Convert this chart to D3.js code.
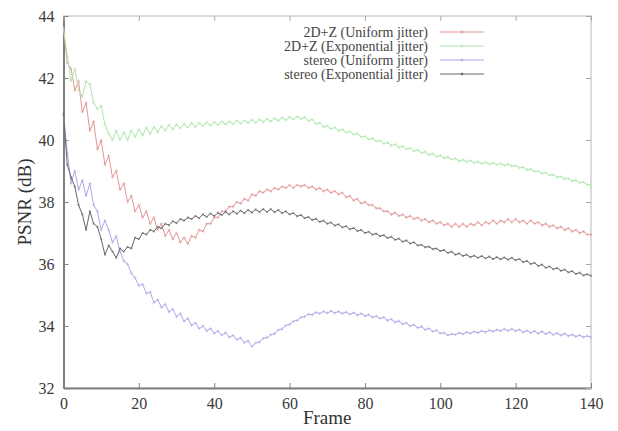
<!DOCTYPE html>
<html>
<head>
<meta charset="utf-8">
<script src="https://cdn.jsdelivr.net/npm/d3@7"></script>
<style>
  body { margin: 0; background: #fff; }
</style>
</head>
<body>
<script>
// data, one value per frame (0..140)
var uniform2dz = [43.6,42.5,42.3,41.6,41.9,40.9,41.2,40.3,40.6,39.7,40.0,39.2,39.5,38.8,39.0,38.4,38.6,38.0,38.2,37.7,
  37.9,37.5,37.7,37.3,37.5,37.1,37.3,36.9,37.1,36.8,37.0,36.7,36.85,36.65,36.9,36.85,37.1,37.05,37.3,37.3,
  37.5,37.5,37.7,37.7,37.85,37.85,38.0,37.95,38.1,38.05,38.25,38.2,38.35,38.3,38.4,38.35,38.45,38.4,38.5,38.45,
  38.55,38.45,38.55,38.5,38.55,38.45,38.5,38.4,38.45,38.35,38.4,38.3,38.35,38.25,38.3,38.15,38.2,38.05,38.1,37.95,
  38.0,37.9,37.9,37.8,37.8,37.7,37.7,37.6,37.65,37.55,37.6,37.5,37.55,37.45,37.5,37.4,37.45,37.35,37.4,37.3,
  37.35,37.25,37.3,37.2,37.3,37.2,37.3,37.2,37.3,37.25,37.35,37.25,37.35,37.3,37.4,37.3,37.4,37.35,37.45,37.35,
  37.45,37.35,37.4,37.3,37.4,37.3,37.35,37.25,37.3,37.2,37.25,37.15,37.2,37.1,37.15,37.05,37.1,37.0,37.05,36.95,36.95];

var expo2dz = [43.6,42.7,41.9,42.3,41.6,41.4,41.9,41.8,41.2,41.0,41.1,40.5,40.2,40.0,40.3,40.0,40.25,40.0,40.3,40.1,
  40.35,40.15,40.4,40.2,40.42,40.25,40.45,40.3,40.48,40.35,40.5,40.38,40.52,40.4,40.55,40.42,40.55,40.45,40.57,40.47,
  40.58,40.48,40.6,40.5,40.6,40.52,40.62,40.53,40.63,40.55,40.65,40.56,40.66,40.58,40.68,40.6,40.7,40.62,40.72,40.64,
  40.74,40.66,40.76,40.68,40.74,40.62,40.66,40.52,40.56,40.42,40.46,40.36,40.4,40.3,40.34,40.24,40.28,40.18,40.2,40.1,
  40.12,40.02,40.05,39.95,39.98,39.88,39.92,39.82,39.86,39.76,39.8,39.7,39.74,39.64,39.68,39.58,39.62,39.52,39.56,39.46,
  39.5,39.42,39.45,39.37,39.4,39.32,39.36,39.3,39.34,39.26,39.3,39.24,39.28,39.22,39.26,39.2,39.24,39.18,39.22,39.15,
  39.18,39.1,39.12,39.04,39.06,38.98,39.0,38.92,38.94,38.86,38.88,38.8,38.82,38.74,38.76,38.68,38.7,38.62,38.64,38.56,38.55];

var uniformStereo = [40.8,39.6,38.6,39.0,38.4,38.7,38.2,38.6,37.9,37.7,37.1,37.4,37.1,36.7,36.9,36.4,36.1,36.0,35.7,35.55,
  35.3,35.35,35.05,35.1,34.75,34.85,34.6,34.7,34.45,34.55,34.3,34.4,34.15,34.25,34.02,34.1,33.92,34.0,33.84,33.92,
  33.76,33.84,33.7,33.78,33.64,33.7,33.56,33.62,33.46,33.52,33.34,33.45,33.48,33.6,33.62,33.72,33.75,33.87,33.9,34.02,
  34.05,34.15,34.18,34.28,34.3,34.38,34.36,34.44,34.4,34.47,34.42,34.48,34.42,34.47,34.4,34.45,34.38,34.43,34.35,34.4,
  34.32,34.36,34.28,34.32,34.24,34.28,34.18,34.22,34.12,34.16,34.06,34.1,34.0,34.04,33.94,33.98,33.88,33.92,33.82,33.86,
  33.76,33.78,33.7,33.74,33.72,33.78,33.74,33.8,33.76,33.82,33.78,33.84,33.8,33.86,33.82,33.88,33.84,33.9,33.85,33.9,
  33.84,33.88,33.8,33.85,33.78,33.84,33.76,33.82,33.74,33.8,33.72,33.77,33.7,33.75,33.68,33.72,33.66,33.7,33.64,33.68,33.64];

var expoStereo = [40.85,39.2,38.8,38.5,37.9,37.6,37.1,37.7,37.3,37.2,36.8,36.3,36.6,36.4,36.2,36.5,36.4,36.55,36.5,36.85,
  36.8,37.0,36.95,37.1,37.05,37.2,37.15,37.3,37.25,37.38,37.32,37.45,37.4,37.5,37.45,37.55,37.48,37.6,37.52,37.63,
  37.55,37.65,37.58,37.68,37.6,37.7,37.62,37.72,37.64,37.74,37.66,37.76,37.68,37.77,37.68,37.77,37.67,37.74,37.64,37.7,
  37.6,37.64,37.54,37.58,37.48,37.52,37.42,37.46,37.36,37.4,37.3,37.34,37.24,37.28,37.18,37.22,37.12,37.16,37.06,37.1,
  37.0,37.04,36.95,36.98,36.9,36.93,36.84,36.88,36.78,36.82,36.72,36.76,36.66,36.7,36.6,36.62,36.54,36.56,36.48,36.5,
  36.42,36.45,36.36,36.4,36.3,36.34,36.26,36.3,36.22,36.27,36.2,36.26,36.18,36.24,36.16,36.22,36.15,36.21,36.14,36.2,
  36.12,36.16,36.06,36.1,36.0,36.04,35.94,35.98,35.88,35.92,35.83,35.87,35.78,35.82,35.73,35.77,35.68,35.72,35.63,35.67,35.62];

var seriesNames = ["2D+Z (Uniform jitter)", "2D+Z (Exponential jitter)", "stereo (Uniform jitter)", "stereo (Exponential jitter)"];
var seriesColors = ["#e49595", "#aee6ae", "#b2a6e6", "#666666"];
var xTicks = [0, 20, 40, 60, 80, 100, 120, 140];
var yTicks = [32, 34, 36, 38, 40, 42, 44];

var FONT = "'Liberation Serif', 'Times New Roman', Times, 'DejaVu Serif', serif";
var W = 618, H = 431;
var m = {left: 63.5, right: 27, top: 16, bottom: 43};

var svg = d3.select("body").append("svg")
  .attr("width", W).attr("height", H)
  .attr("font-family", FONT);

var x = d3.scaleLinear().domain([0, 140]).range([m.left, W - m.right]);
var y = d3.scaleLinear().domain([32, 44]).range([H - m.bottom, m.top]);

// frame: top + right thin, left + bottom darker
svg.append("rect")
  .attr("x", x(0)).attr("y", y(44))
  .attr("width", x(140) - x(0)).attr("height", y(32) - y(44))
  .attr("fill", "none").attr("stroke", "#b8b8b8").attr("stroke-width", 1);

// axes with inward ticks
var xAxis = svg.append("g").attr("transform", "translate(0," + y(32) + ")")
  .call(d3.axisBottom(x).tickValues(xTicks).tickSizeInner(-5).tickSizeOuter(0).tickPadding(10));
var yAxis = svg.append("g").attr("transform", "translate(" + x(0) + ",0)")
  .call(d3.axisLeft(y).tickValues(yTicks).tickSizeInner(-5).tickSizeOuter(0).tickPadding(9));
var xTop = svg.append("g").attr("transform", "translate(0," + y(44) + ")")
  .call(d3.axisTop(x).tickValues(xTicks).tickSize(-5).tickFormat(""));
var yRight = svg.append("g").attr("transform", "translate(" + x(140) + ",0)")
  .call(d3.axisRight(y).tickValues(yTicks).tickSize(-5).tickFormat(""));

[xTop, yRight].forEach(function (g) {
  g.select(".domain").remove();
  g.selectAll("line").attr("stroke", "#aaa");
});
[xAxis, yAxis].forEach(function (g) {
  g.attr("font-family", FONT);
  g.select(".domain").attr("stroke", "#808080").attr("stroke-width", 2);
  g.selectAll("line").attr("stroke", "#808080");
  g.selectAll("text").attr("font-size", "16px").attr("fill", "#3a3a3a")
    .style("font-family", FONT);
});

// axis titles
svg.append("text").attr("x", (x(0) + x(140)) / 2).attr("y", 424)
  .attr("text-anchor", "middle").attr("font-size", "19px").attr("fill", "#333")
  .style("font-family", FONT).text("Frame");
svg.append("text").attr("transform", "translate(31,202) rotate(-90)")
  .attr("text-anchor", "middle").attr("font-size", "19px").attr("fill", "#333")
  .style("font-family", FONT).text("PSNR (dB)");

// lines
var series = [uniform2dz, expo2dz, uniformStereo, expoStereo];
var line = d3.line()
  .x(function (d, i) { return x(i); })
  .y(function (d) { return y(d); });

series.forEach(function (vals, k) {
  svg.append("path")
    .datum(vals)
    .attr("d", line)
    .attr("fill", "none")
    .attr("stroke", seriesColors[k])
    .attr("stroke-width", 1);

  // small point markers on each frame
  svg.append("g").selectAll("path")
    .data(vals)
    .enter()
    .append("path")
    .attr("transform", function (d, i) { return "translate(" + x(i) + "," + y(d) + ")"; })
    .attr("d", d3.symbol().type(k === 3 ? d3.symbolSquare : d3.symbolCross).size(k === 3 ? 4 : 5))
    .attr("fill", seriesColors[k])
    .attr("opacity", 0.6);
});

// legend
var legend = svg.append("g");
seriesNames.forEach(function (name, k) {
  var ly = 32 + k * 14;
  legend.append("text")
    .attr("x", 428).attr("y", ly + 4.5)
    .attr("text-anchor", "end").attr("font-size", "14px").attr("fill", "#444")
    .style("font-family", FONT)
    .text(name);
  legend.append("line")
    .attr("x1", 440).attr("x2", 484).attr("y1", ly).attr("y2", ly)
    .attr("stroke", seriesColors[k]).attr("stroke-width", 1);
  legend.append("path")
    .attr("transform", "translate(462," + ly + ")")
    .attr("d", d3.symbol().type(k === 3 ? d3.symbolSquare : d3.symbolCross).size(5))
    .attr("fill", seriesColors[k]);
});
</script>
</body>
</html>
